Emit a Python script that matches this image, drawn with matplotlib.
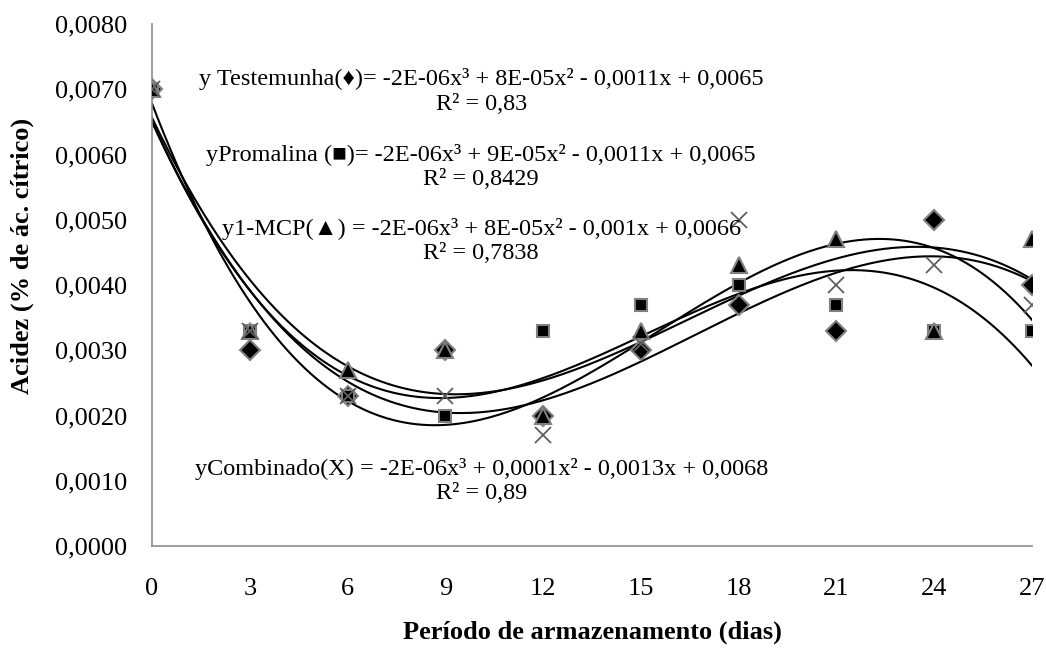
import numpy as np
import matplotlib
matplotlib.use("Agg")
from matplotlib import pyplot as plt

plt.rcParams['font.family'] = ['Liberation Serif', 'DejaVu Serif']

# storage period (days)
dias = [0, 3, 6, 9, 12, 15, 18, 21, 24, 27]

# acidity per treatment
testemunha = [0.0070, 0.0030, 0.0023, 0.0030, 0.0020, 0.0030, 0.0037, 0.0033, 0.0050, 0.0040]
promalina = [0.0070, 0.0033, 0.0023, 0.0020, 0.0033, 0.0037, 0.0040, 0.0037, 0.0033, 0.0033]
mcp = [0.0070, 0.0033, 0.0027, 0.0030, 0.0020, 0.0033, 0.0043, 0.0047, 0.0033, 0.0047]
combinado = [0.0070, 0.0033, 0.0023, 0.0023, 0.0017, 0.0031, 0.0050, 0.0040, 0.0043, 0.0037]

equacoes = [
    ("y Testemunha(\u2666)= -2E-06x\u00b3 + 8E-05x\u00b2 - 0,0011x + 0,0065", "R\u00b2 = 0,83", 0.00715),
    ("yPromalina (\u25a0)= -2E-06x\u00b3 + 9E-05x\u00b2 - 0,0011x + 0,0065", "R\u00b2 = 0,8429", 0.00600),
    ("y1-MCP(\u25b2) = -2E-06x\u00b3 + 8E-05x\u00b2 - 0,001x + 0,0066", "R\u00b2 = 0,7838", 0.00486),
    ("yCombinado(X) = -2E-06x\u00b3 + 0,0001x\u00b2 - 0,0013x + 0,0068", "R\u00b2 = 0,89", 0.00118),
]

fig = plt.figure(figsize=(10.46, 6.49), dpi=100)
ax = fig.add_axes([0.1453, 0.1587, 0.8413, 0.8043])

x = np.array(dias)
xs = np.linspace(0, 27, 300)
series = [
    (testemunha, dict(marker='D', color='black', markeredgecolor='#808080', markersize=10)),
    (promalina, dict(marker='s', color='black', markeredgecolor='#808080', markersize=9)),
    (mcp, dict(marker='^', color='black', markeredgecolor='#808080', markersize=12)),
    (combinado, dict(marker='x', color='#606060', markersize=11, markeredgewidth=1.3)),
]
for vals, st in series:
    coef = np.polyfit(x, vals, 3)
    ax.plot(xs, np.polyval(coef, xs), color='black', lw=1.5, zorder=2)
for vals, st in series:
    ax.plot(x, vals, linestyle='none', zorder=3, markeredgewidth=st.pop('markeredgewidth', 1.5), **st)

for eq, r2, yy in equacoes:
    ax.text(10.1, yy, eq, ha='center', va='center', fontsize=17.5,
            family=['Liberation Serif', 'DejaVu Sans'])
    ax.text(10.1, yy - 0.00038, r2, ha='center', va='center', fontsize=17.5)

ax.set_xlim(0, 27)
ax.set_ylim(0, 0.008)
ax.set_xticks(dias)
ax.set_yticks(np.arange(0, 0.0081, 0.001))
ax.set_yticklabels([f"{v:.4f}".replace('.', ',') for v in np.arange(0, 0.0081, 0.001)])
ax.tick_params(length=0, labelsize=19, pad=18)
ax.tick_params(axis='x', pad=23)
for s in ['top', 'right']:
    ax.spines[s].set_visible(False)
for s in ['left', 'bottom']:
    ax.spines[s].set_color('#8c8c8c')
    ax.spines[s].set_linewidth(1.2)
ax.set_xlabel("Período de armazenamento (dias)", fontsize=19, fontweight='bold', labelpad=15)
ax.set_ylabel("Acidez (% de ác. cítrico)", fontsize=19, fontweight='bold')
ax.yaxis.set_label_coords(-0.134, 0.556)

fig.savefig("out.png", dpi=100)
